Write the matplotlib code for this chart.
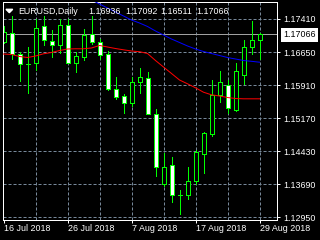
import matplotlib
matplotlib.use('Agg')
import matplotlib.pyplot as plt
import matplotlib.transforms as mtransforms
from matplotlib.patches import Polygon
import numpy as np

plt.rcParams['font.family'] = ['Liberation Sans', 'DejaVu Sans']
plt.rcParams['lines.scale_dashes'] = False

# ---------------- data ----------------
opens = [1.16879, 1.17089, 1.16603, 1.16400, 1.16417, 1.17253, 1.16910, 1.16820, 1.17275, 1.16417,
         1.16542, 1.17067, 1.16888, 1.16603, 1.15834, 1.15683, 1.15520, 1.15982, 1.16080, 1.15273,
         1.13703, 1.14114, 1.13463, 1.13463, 1.13777, 1.14376, 1.14809, 1.15699, 1.15923, 1.15363,
         1.16148, 1.16766, 1.16936]
highs = [1.17253, 1.17455, 1.16654, 1.16782, 1.17403, 1.17455, 1.17157, 1.17403, 1.17403, 1.16654,
         1.17179, 1.17455, 1.16955, 1.16670, 1.16109, 1.15706, 1.16094, 1.16296, 1.16206, 1.15385,
         1.14390, 1.14300, 1.13569, 1.14091, 1.14450, 1.14860, 1.16020, 1.16228, 1.16020, 1.16408,
         1.16932, 1.17343, 1.17092]
lows = [1.16870, 1.16506, 1.16004, 1.15735, 1.16244, 1.16820, 1.16542, 1.16641, 1.16405, 1.16206,
        1.16484, 1.16827, 1.16506, 1.15796, 1.15594, 1.15286, 1.15437, 1.15735, 1.15273, 1.13867,
        1.13650, 1.13306, 1.13031, 1.13367, 1.13703, 1.13941, 1.14786, 1.15533, 1.15286, 1.15331,
        1.15946, 1.16618, 1.16511]
closes = [1.17118, 1.16618, 1.16394, 1.16395, 1.17201, 1.16917, 1.16820, 1.17275, 1.16417, 1.16558,
          1.17029, 1.16879, 1.16596, 1.15818, 1.15645, 1.15520, 1.15997, 1.16109, 1.15273, 1.14091,
          1.14091, 1.13441, 1.13460, 1.13777, 1.14412, 1.14838, 1.15699, 1.15975, 1.15408, 1.16222,
          1.16782, 1.16932, 1.17066]
ma_red = [1.16614, 1.16603, 1.16558, 1.16535, 1.16569, 1.16618, 1.16648, 1.16692, 1.16726, 1.16731,
          1.16731, 1.16749, 1.16805, 1.16771, 1.16737, 1.16708, 1.16681, 1.16666, 1.16625, 1.16468,
          1.16322, 1.16177, 1.16031, 1.15946, 1.15856, 1.15757, 1.15699, 1.15672, 1.15638, 1.15616,
          1.15609, 1.15609, 1.15609]
blue_start = 11
ma_blue = [1.17825, 1.17735, 1.17645, 1.17556, 1.17466, 1.17376, 1.17309, 1.17231, 1.17130, 1.17040,
           1.16950, 1.16872, 1.16794, 1.16726, 1.16670, 1.16625, 1.16580, 1.16535, 1.16502, 1.16468,
           1.16450, 1.16430]
price_ticks = [1.17410, 1.16650, 1.15910, 1.15170, 1.14430, 1.13690, 1.12950]
date_ticks = [0, 8, 16, 24, 32]
date_labels = ['16 Jul 2018', '26 Jul 2018', '7 Aug 2018', '17 Aug 2018', '29 Aug 2018']
grid_x = [4, 8, 12, 16, 20, 24, 28, 32]
symbol = 'EURUSD,Daily'
last_price = 1.17066

# ---------------- figure ----------------
W, H, DPI = 320, 240, 100
PX = 72 / DPI
FS = 6.4
LIME = '#00ff00'
GRID = '#778899'

fig = plt.figure(figsize=(W / DPI, H / DPI), dpi=DPI, facecolor='black')
L, R, T, B = 2.5, 276.5, 1.5, 219.5
ax = fig.add_axes([L / W, 1 - B / H, (R - L) / W, (B - T) / H], facecolor='black')

ax.set_xlim((L - 3.5) / 8, (R - 3.5) / 8)
ppx = 0.0074 / 33
ax.set_ylim(1.17410 - (B - 18.5) * ppx, 1.17410 + (18.5 - T) * ppx)

# grid
for g in grid_x:
    ax.axvline(g, color=GRID, lw=PX, dashes=(2.2, 1.4), zorder=0.5)
for p in price_ticks:
    ax.axhline(p, color=GRID, lw=PX, dashes=(2.2, 1.4), zorder=0.5)
ax.axhline(last_price, color='#a0a0a0', lw=PX, zorder=0.8)

x = np.arange(len(opens))
o = np.array(opens); c = np.array(closes)
ax.vlines(x, lows, highs, color=LIME, lw=PX, zorder=2, antialiased=False)
bottoms = np.minimum(o, c)
heights = np.abs(c - o)
faces = ['white' if cc < oo else 'black' for oo, cc in zip(o, c)]
ax.bar(x, heights, bottom=bottoms, width=0.5, color=faces, edgecolor=LIME,
       linewidth=PX, zorder=2.5, antialiased=False)

ax.plot(x, ma_red, color='red', lw=PX, zorder=3)
ax.plot(np.arange(blue_start, blue_start + len(ma_blue)), ma_blue, color='blue', lw=PX, zorder=3)

for s in ax.spines.values():
    s.set_color('white'); s.set_linewidth(PX)

ax.yaxis.tick_right()
ax.set_yticks(price_ticks)
ax.set_yticklabels(['%.5f' % p for p in price_ticks])
ax.tick_params(axis='y', colors='white', length=3 * PX, width=PX, pad=3.6 * PX, labelsize=FS)
ax.set_xticks(date_ticks)
ax.set_xticklabels(date_labels)
ax.tick_params(axis='x', colors='white', length=3 * PX, width=PX, pad=0.8, labelsize=FS)
for lbl in ax.get_xticklabels():
    lbl.set_horizontalalignment('left')

# current price label
tr = mtransforms.blended_transform_factory(fig.transFigure, ax.transData)
fig.text(283.3 / W, last_price, '%.5f' % last_price, transform=tr, color='black', fontsize=FS,
         va='center_baseline', ha='left',
         bbox=dict(boxstyle='square,pad=0.25', fc='white', ec='none'), zorder=10)

# header
tri = Polygon([(6 / W, 1 - 9.3 / H), (12.7 / W, 1 - 9.3 / H), (9.35 / W, 1 - 12.7 / H)],
              closed=True, transform=fig.transFigure, color='white', zorder=10)
fig.patches.append(tri)
header_vals = [opens[-1], highs[-1], lows[-1], closes[-1]]
fig.text(18.3 / W, 1 - 14.3 / H, symbol, color='white', fontsize=FS, va='baseline', zorder=10)
for xpos, v in zip([88.3, 125, 160.5, 196], header_vals):
    fig.text(xpos / W, 1 - 14.3 / H, '%.5f' % v, color='white', fontsize=FS, va='baseline', zorder=10)

fig.savefig('out.png', dpi=DPI, facecolor='black')
